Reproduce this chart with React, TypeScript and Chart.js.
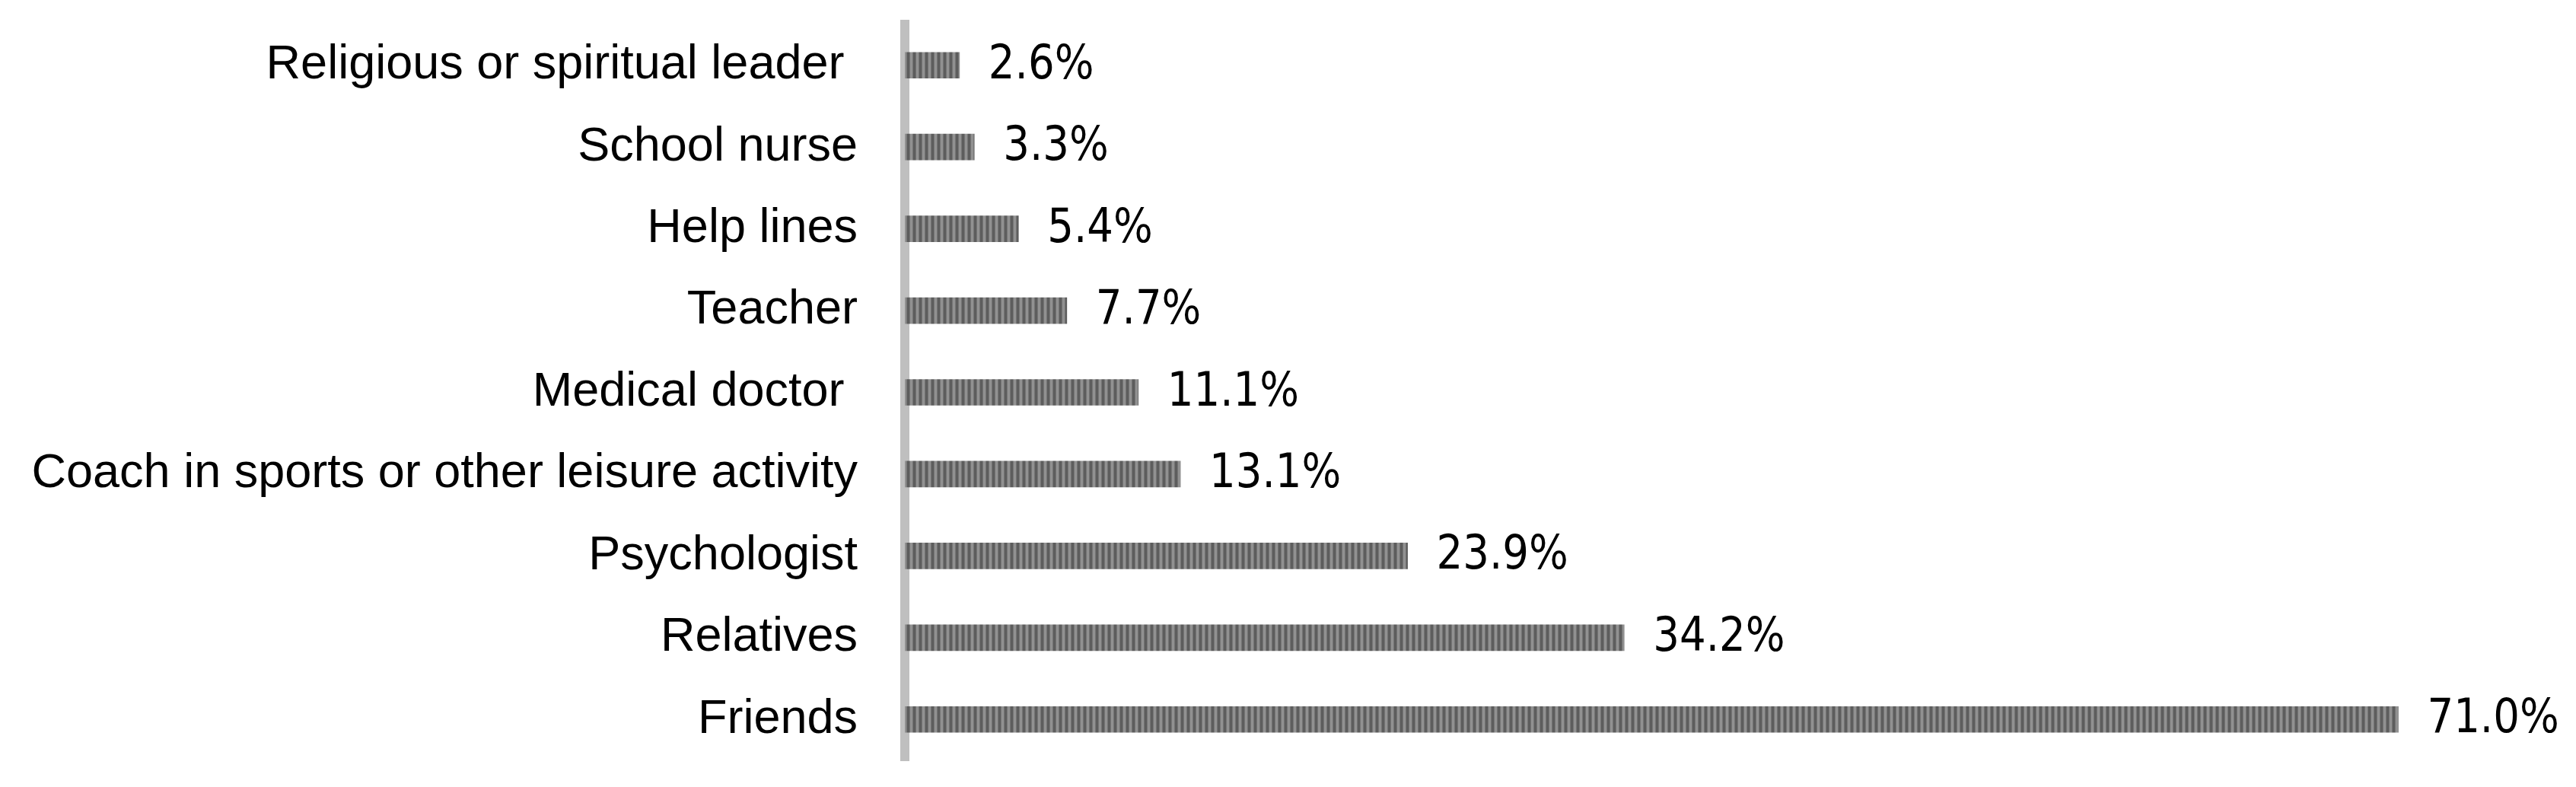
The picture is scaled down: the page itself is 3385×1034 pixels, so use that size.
import React, { useEffect, useRef } from "react";
import { Chart, registerables } from "chart.js";

Chart.register(...registerables);

const categories = [
  "Religious or spiritual leader ",
  "School nurse",
  "Help lines",
  "Teacher",
  "Medical doctor ",
  "Coach in sports or other leisure activity",
  "Psychologist",
  "Relatives",
  "Friends",
];

const percentages = [2.6, 3.3, 5.4, 7.7, 11.1, 13.1, 23.9, 34.2, 71.0];

const xMin = 0;
const xMax = 75;

function makePattern(ctx: CanvasRenderingContext2D): CanvasPattern | string {
  const c = document.createElement("canvas");
  c.width = 8;
  c.height = 4;
  const p = c.getContext("2d");
  if (!p) return "#777777";
  const cols = ["#5d5d5d", "#5d5d5d", "#5d5d5d", "#757575", "#919191", "#919191", "#919191", "#757575"];
  cols.forEach((col, i) => {
    p.fillStyle = col;
    p.fillRect(i, 0, 1, 4);
  });
  return ctx.createPattern(c, "repeat") || "#777777";
}

const valueLabelPlugin = {
  id: "valueLabels",
  afterDatasetsDraw(chart: any) {
    const ctx: CanvasRenderingContext2D = chart.ctx;
    const meta = chart.getDatasetMeta(0);
    const data = chart.data.datasets[0].data as number[];
    ctx.save();
    ctx.fillStyle = "#000000";
    ctx.font = "62px 'DejaVu Sans', sans-serif";
    ctx.textAlign = "left";
    ctx.textBaseline = "middle";
    meta.data.forEach((bar: any, i: number) => {
      const text = data[i].toFixed(1) + "%";
      const x = bar.x + 38;
      const y = bar.y + 1;
      ctx.save();
      ctx.translate(x, y);
      ctx.scale(0.88, 1);
      ctx.fillText(text, 0, 0);
      ctx.restore();
    });
    ctx.restore();
  },
};

export default function App() {
  const canvasRef = useRef<HTMLCanvasElement | null>(null);

  useEffect(() => {
    const canvas = canvasRef.current;
    if (!canvas) return;
    const ctx = canvas.getContext("2d");
    if (!ctx) return;
    const pattern = makePattern(ctx);

    const chart = new Chart(canvas, {
      type: "bar",
      data: {
        labels: categories,
        datasets: [
          {
            data: percentages,
            backgroundColor: pattern as any,
            borderWidth: 0,
            barThickness: 34,
          },
        ],
      },
      options: {
        indexAxis: "y",
        responsive: false,
        animation: false,
        devicePixelRatio: 1,
        layout: { padding: { left: 0, right: 123, top: 32, bottom: 35 } },
        plugins: {
          legend: { display: false },
          tooltip: { enabled: false },
          title: { display: false },
        },
        scales: {
          x: {
            type: "linear",
            min: xMin,
            max: xMax,
            display: false,
            grid: { display: false },
          },
          y: {
            type: "category",
            position: "left",
            z: 1,
            grid: { display: false, drawTicks: false },
            border: { display: true, color: "#bfbfbf", width: 12 },
            ticks: {
              color: "#000000",
              padding: 62,
              font: { family: "'Liberation Sans', Arial, sans-serif", size: 63 },
            },
            afterFit: (scale: any) => {
              scale.width = 1189;
              scale.paddingTop = 0;
              scale.paddingBottom = 0;
            },
          },
        },
      },
      plugins: [valueLabelPlugin],
    });

    return () => {
      chart.destroy();
    };
  }, []);

  return (
    <div style={{ position: "fixed", left: 0, top: 0, width: 3385, height: 1034, background: "#ffffff" }}>
      <canvas ref={canvasRef} width={3385} height={1034} style={{ display: "block", width: 3385, height: 1034 }} />
    </div>
  );
}
